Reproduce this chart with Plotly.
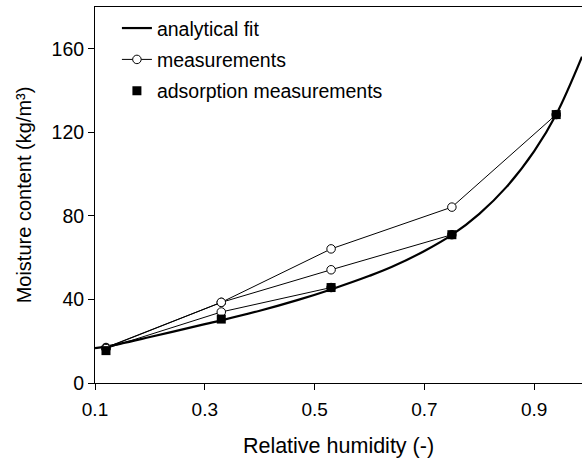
import plotly.graph_objects as go

# analytical fit curve
fit_rh = [0.10, 0.12, 0.20, 0.30, 0.33, 0.40, 0.47, 0.53, 0.60, 0.64, 0.70, 0.75, 0.80, 0.85, 0.90, 0.94, 0.987]
fit_w = [16.7, 17.4, 22.0, 28.2, 30.0, 34.6, 39.8, 44.8, 51.3, 55.5, 63.2, 70.9, 81.0, 94.0, 111.0, 128.5, 156.2]

# measurement series (open circles)
meas_a_rh = [0.12, 0.33, 0.53, 0.75, 0.94]
meas_a_w = [17.0, 38.6, 64.2, 84.2, 128.5]
meas_b_rh = [0.12, 0.33, 0.53, 0.75]
meas_b_w = [16.8, 38.6, 54.2, 71.0]
meas_c_rh = [0.12, 0.33, 0.53]
meas_c_w = [16.5, 34.0, 45.7]

# adsorption measurements (filled squares)
ads_rh = [0.12, 0.33, 0.53, 0.75, 0.94]
ads_w = [15.5, 30.6, 45.7, 71.0, 128.5]

x_ticks = [0.1, 0.3, 0.5, 0.7, 0.9]
x_labels = ["0.1", "0.3", "0.5", "0.7", "0.9"]
y_ticks = [0, 40, 80, 120, 160]
y_labels = ["0", "40", "80", "120", "160"]

FONT = "Liberation Sans, Arial, sans-serif"

fig = go.Figure()
fig.add_trace(go.Scatter(x=fit_rh, y=fit_w, mode="lines", name="analytical fit",
                         line=dict(color="black", width=2.2, shape="spline", smoothing=1.0),
                         legendgroup="a"))
circ = dict(symbol="circle", size=8.5, color="white", line=dict(color="black", width=1))
fig.add_trace(go.Scatter(x=meas_a_rh, y=meas_a_w, mode="lines+markers", name="measurements",
                         line=dict(color="black", width=1), marker=circ, legendgroup="b"))
fig.add_trace(go.Scatter(x=meas_b_rh, y=meas_b_w, mode="lines+markers", showlegend=False,
                         line=dict(color="black", width=1), marker=circ, legendgroup="b"))
fig.add_trace(go.Scatter(x=meas_c_rh, y=meas_c_w, mode="lines+markers", showlegend=False,
                         line=dict(color="black", width=1), marker=circ, legendgroup="b"))
fig.add_trace(go.Scatter(x=ads_rh, y=ads_w, mode="markers", name="adsorption measurements",
                         marker=dict(symbol="square", size=9, color="black"), legendgroup="c"))

fig.update_layout(
    width=582, height=467,
    margin=dict(l=95, r=0, t=7, b=84),
    plot_bgcolor="white", paper_bgcolor="white",
    font=dict(family=FONT, size=19.5, color="black"),
    showlegend=True,
    legend=dict(x=0.045, y=0.995, xanchor="left", yanchor="top",
                bgcolor="rgba(0,0,0,0)", font=dict(size=19.5),
                traceorder="grouped", tracegroupgap=3),
    xaxis=dict(range=[0.1, 0.987], tickvals=x_ticks, ticktext=x_labels,
               showline=True, linecolor="black", linewidth=1, mirror=True,
               ticks="outside", ticklen=6, tickcolor="black", showgrid=False, zeroline=False,
               ticklabelstandoff=3, tickfont=dict(size=19),
               title=dict(text="Relative humidity (-)", font=dict(size=21.5), standoff=19)),
    yaxis=dict(range=[0, 180], tickvals=y_ticks, ticktext=y_labels,
               showline=True, linecolor="black", linewidth=1,
               ticks="outside", ticklen=6, tickcolor="black", showgrid=False, zeroline=False,
               tickfont=dict(size=19.5),
               title=dict(text="Moisture content (kg/m³)", font=dict(size=20), standoff=14)),
)

fig.write_html("out.html")
